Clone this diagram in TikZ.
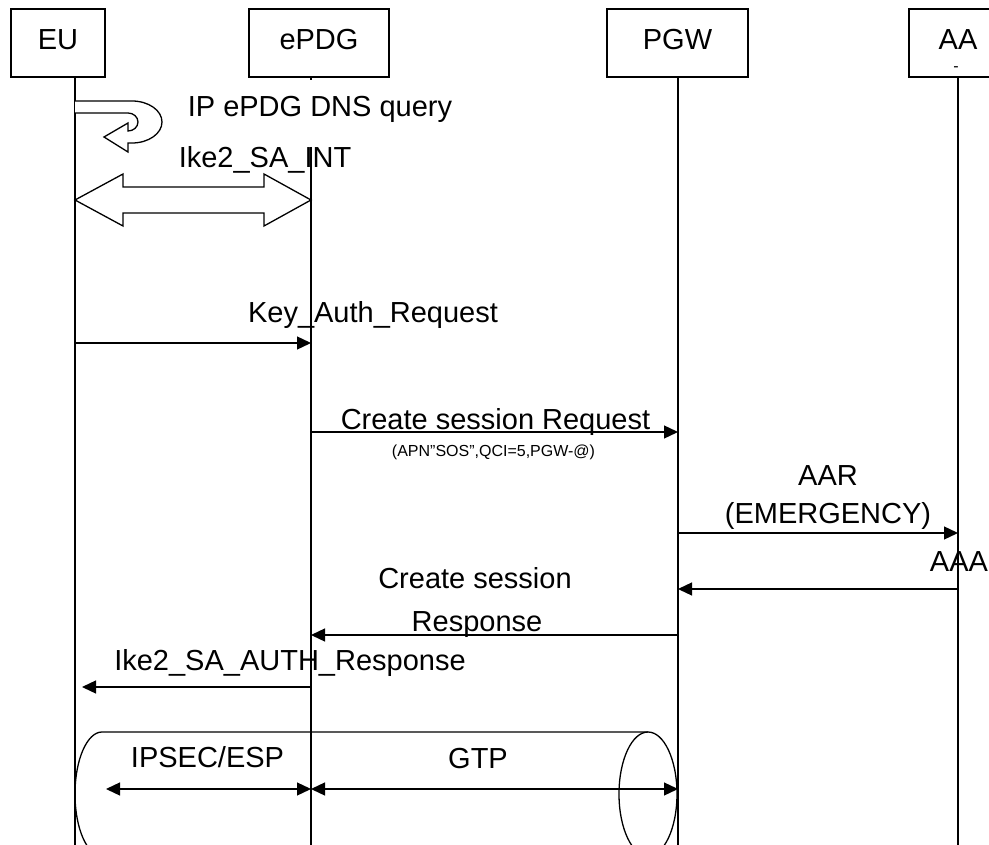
\documentclass[tikz,border=0pt]{standalone}
\usepackage{fontspec}
\setmainfont{Liberation Sans}
\usetikzlibrary{arrows.meta}
\begin{document}
\begin{tikzpicture}[x=1pt,y=-1pt,line width=1.3pt,
  actor/.style={draw,rectangle,inner sep=0pt,minimum height=68pt,text height=21pt,text depth=7pt,font=\fontsize{29}{34}\selectfont},
  lbl/.style={inner sep=0pt,anchor=base,font=\fontsize{29}{34}\selectfont},
  smalllbl/.style={inner sep=0pt,anchor=base,font=\fontsize{16}{19}\selectfont},
  msg/.style={-{Triangle[length=14pt,width=13pt]}},
  bimsg/.style={{Triangle[length=14pt,width=13pt]}-{Triangle[length=14pt,width=13pt]}},
  hollow/.style={draw,fill=white,line join=miter}
]
\useasboundingbox (0,0) rectangle (989,845);

% actors
\node[actor,minimum width=94pt] (eu) at (58,43) {EU};
\node[actor,minimum width=140pt] (epdg) at (319,43) {ePDG};
\node[actor,minimum width=141pt] (pgw) at (677.5,43) {PGW};
\node[actor,minimum width=98pt] (aa) at (958,43) {AA};
\node[smalllbl] (aadash) at (956,72) {-};

% lifelines
\coordinate (euT) at (75,77);   \coordinate (euB) at (75,845);
\coordinate (epT) at (311,77);  \coordinate (epT2) at (311,80);
\coordinate (epM) at (311,147); \coordinate (epB) at (311,845);
\coordinate (pgT) at (678,77);  \coordinate (pgB) at (678,845);
\coordinate (aaT) at (958,77);  \coordinate (aaB) at (958,845);
\draw (euT) -- (euB);
\draw (epT) -- (epT2);
\draw (epM) -- (epB);
\draw (pgT) -- (pgB);
\draw (aaT) -- (aaB);

% self loop (IP ePDG DNS query)
\draw[hollow] (75,101) -- (132,101)
  arc[start angle=-90,end angle=90,x radius=30,y radius=21]
  -- (128,143) -- (128,152) -- (104,137) -- (128,123) -- (128,131)
  arc[start angle=90,end angle=-90,x radius=10,y radius=9]
  -- (75,113);
\node[lbl] (dns) at (320,117) {IP ePDG DNS query};

% Ike2_SA_INT double block arrow
\draw[hollow] (75,200) -- (123,174) -- (123,187) -- (264,187) -- (264,174)
  -- (311,200) -- (264,226) -- (264,213) -- (123,213) -- (123,226) -- cycle;
\node[lbl] (ikeint) at (265,168) {Ike2\_SA\_INT};

% Key_Auth_Request
\coordinate (k1) at (75,343); \coordinate (k2) at (311,343);
\draw[msg] (k1) -- (k2);
\node[lbl] (keyauth) at (373,323) {Key\_Auth\_Request};

% Create session Request
\coordinate (c1) at (311,432); \coordinate (c2) at (678,432);
\draw[msg] (c1) -- (c2);
\node[lbl] (csreq) at (495.5,429) {Create session Request};
\node[smalllbl] (csparam) at (493.5,456) {(APN”SOS”,QCI=5,PGW-@)};

% AAR
\coordinate (a1) at (678,533); \coordinate (a2) at (958,533);
\draw[msg] (a1) -- (a2);
\node[lbl] (aar1) at (828,485) {AAR};
\node[lbl] (aar2) at (828,523) {(EMERGENCY)};

% AAA
\coordinate (b1) at (958,589); \coordinate (b2) at (678,589);
\draw[msg] (b1) -- (b2);
\node[lbl] (aaa) at (959,571) {AAA};

% Create session Response
\coordinate (r1) at (678,635); \coordinate (r2) at (311,635);
\draw[msg] (r1) -- (r2);
\node[lbl] (csr1) at (475,588) {Create session};
\node[lbl] (csr2) at (477,631) {Response};

% Ike2_SA_AUTH_Response
\coordinate (s1) at (311,687); \coordinate (s2) at (82,687);
\draw[msg] (s1) -- (s2);
\node[lbl] (ikeauth) at (290,670) {Ike2\_SA\_AUTH\_Response};

% tunnel cylinder
\draw (102,856) arc[start angle=-270,end angle=-90,x radius=27,y radius=62]
  -- (648,732);
\draw (102,856) -- (648,856);
\draw (648,794) ellipse[x radius=29,y radius=62];
\node[lbl] (ipsec) at (207.5,767) {IPSEC/ESP};
\node[lbl] (gtp) at (478,768) {GTP};
\coordinate (t1) at (106,789); \coordinate (t2) at (311,789); \coordinate (t3) at (678,789);
\draw[bimsg] (t1) -- (t2);
\draw[bimsg] (t2) -- (t3);
\end{tikzpicture}
\end{document}
